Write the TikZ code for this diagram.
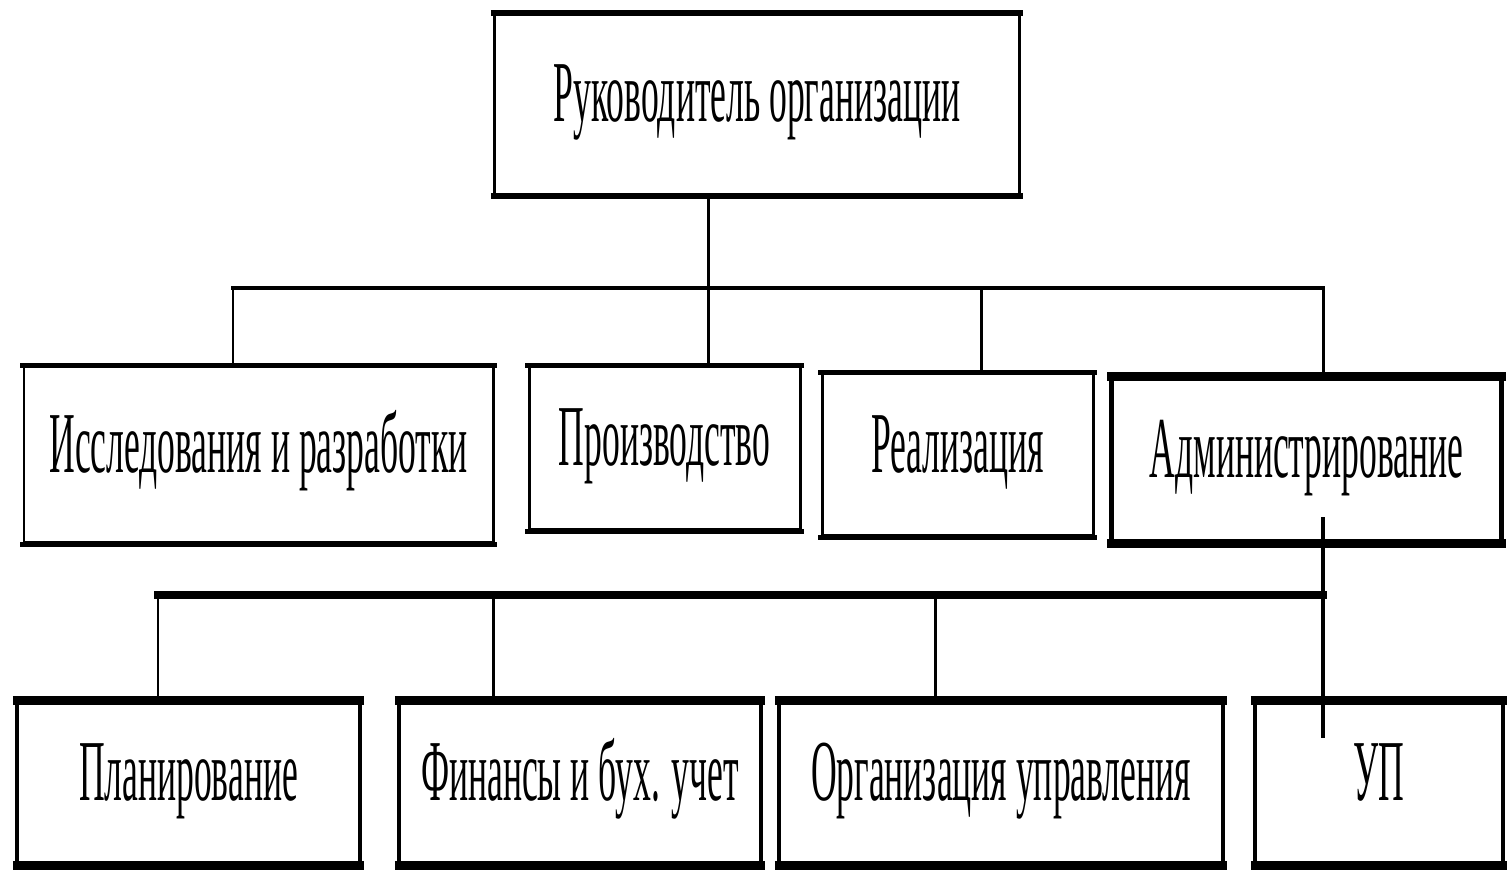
\documentclass[tikz,border=0pt]{standalone}
\usepackage{fontspec}
\newfontfamily\orgfont[FakeStretch=0.41]{Liberation Serif}
\usetikzlibrary{calc}

\begin{document}
\begin{tikzpicture}[font=\orgfont\fontsize{24.7}{26}\selectfont,
   unit/.style={draw, line width=0.85pt, inner sep=0pt, text height=0.6cm, text depth=0.25cm},
   staff/.style={unit, line width=1.2pt, minimum height=1.6cm}]
   \useasboundingbox (0,0) rectangle (15.08,8.70);
   % head
   \node[unit, minimum width=5.25cm, minimum height=1.80cm] (boss) at (7.57,7.655) {Руководитель организации};
   % departments
   \node[unit, minimum width=4.69cm, minimum height=1.76cm] (rd) at (2.585,4.15) {Исследования и разработки};
   \node[unit, minimum width=2.71cm, minimum height=1.63cm] (prod) at (6.645,4.215) {Производство};
   \node[unit, minimum width=2.71cm, minimum height=1.62cm] (sales) at (9.575,4.15) {Реализация};
   \node[staff, minimum width=3.90cm, minimum height=1.62cm] (admin) at (13.065,4.10) {Администрирование};
   % admin services
   \node[staff, minimum width=3.43cm] (plan) at (1.885,0.87) {Планирование};
   \node[staff, minimum width=3.62cm] (fin) at (5.80,0.87) {Финансы и бух. учет};
   \node[staff, minimum width=4.44cm] (orgm) at (10.01,0.87) {Организация управления};
   \node[staff, minimum width=2.48cm] (up) at (13.79,0.87) {УП};
   % heavier top and bottom edges
   \foreach \b/\w in {boss/1.7pt, rd/1.4pt, prod/1.4pt, sales/1.4pt, admin/2.6pt, plan/2.6pt, fin/2.6pt, orgm/2.6pt, up/2.6pt} {
      \draw[line width=\w, shorten <=-0.6pt, shorten >=-0.6pt] (\b.north west) -- (\b.north east);
      \draw[line width=\w, shorten <=-0.6pt, shorten >=-0.6pt] (\b.south west) -- (\b.south east);
   }
   % upper bus
   \coordinate (u1) at (2.33,5.82);
   \coordinate (u2) at (7.08,5.82);
   \coordinate (u3) at (9.81,5.82);
   \coordinate (u4) at (13.23,5.82);
   \draw[line width=1.4pt, line cap=rect] (u1) -- (u4);
   \draw[line width=0.85pt] (boss.south -| u2) -- (u2 |- prod.north);
   \draw[line width=0.85pt] (u1) -- (u1 |- rd.north);
   \draw[line width=0.85pt] (u3) -- (u3 |- sales.north);
   \draw[line width=0.85pt] (u4) -- (u4 |- admin.north);
   % lower bus
   \coordinate (l1) at (1.58,2.75);
   \coordinate (l2) at (4.93,2.75);
   \coordinate (l3) at (9.35,2.75);
   \coordinate (l4) at (13.23,2.75);
   \draw[line width=2.3pt, line cap=rect] (l1) -- (l4);
   \draw[line width=0.85pt] (l1) -- (l1 |- plan.north);
   \draw[line width=0.85pt] (l2) -- (l2 |- fin.north);
   \draw[line width=0.85pt] (l3) -- (l3 |- orgm.north);
   \draw[line width=1.1pt] ($(admin.south -| l4)+(0,0.26)$) -- ($(up.north -| l4)+(0,-0.37)$);
\end{tikzpicture}
\end{document}
